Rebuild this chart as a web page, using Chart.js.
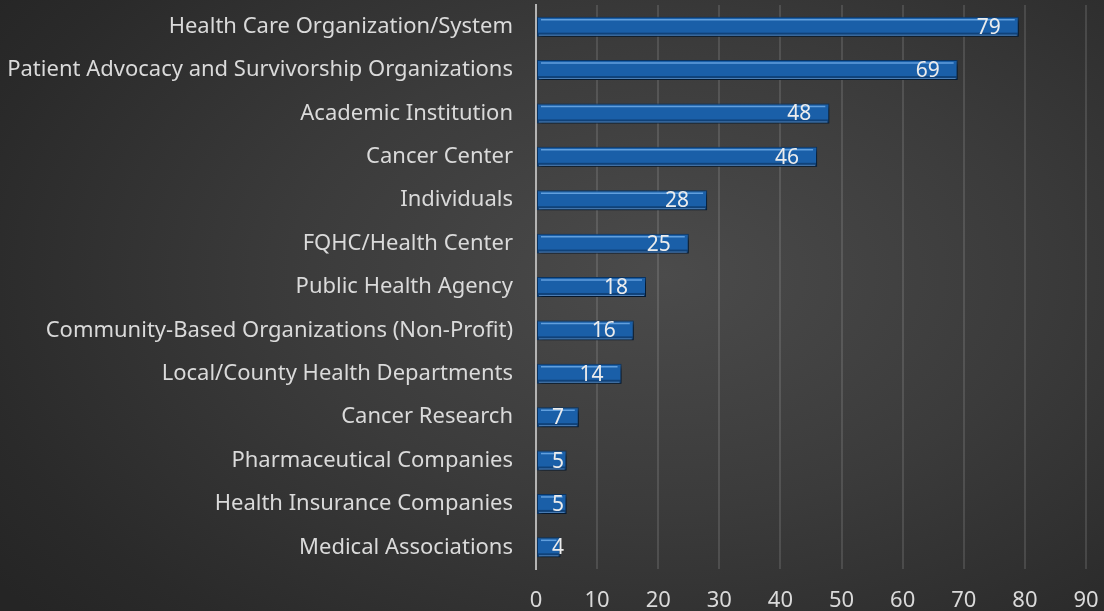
<!DOCTYPE html>
<html>
<head>
<meta charset="utf-8">
<script src="https://cdn.jsdelivr.net/npm/chart.js@4"></script>
<style>
    html, body {
        margin: 0;
        padding: 0;
        width: 1104px;
        height: 611px;
        overflow: hidden;
        background: radial-gradient(ellipse 75% 85% at 60% 45%, #4b4b4b 0%, #3b3b3b 45%, #2a2a2a 85%, #252525 100%);
    }
    canvas { display: block; }
</style>
</head>
<body>
<canvas id="orgChart" width="1104" height="611"></canvas>
<script>
const categories = [
    'Health Care Organization/System',
    'Patient Advocacy and Survivorship Organizations',
    'Academic Institution',
    'Cancer Center',
    'Individuals',
    'FQHC/Health Center',
    'Public Health Agency',
    'Community-Based Organizations (Non-Profit)',
    'Local/County Health Departments',
    'Cancer Research',
    'Pharmaceutical Companies',
    'Health Insurance Companies',
    'Medical Associations'
];
const counts = [79, 69, 48, 46, 28, 25, 18, 16, 14, 7, 5, 5, 4];
const xTicks = [0, 10, 20, 30, 40, 50, 60, 70, 80, 90];

const fontFamily = '"Noto Sans", "Open Sans", sans-serif';
const textColor = '#dadada';

// Shadow under the bars, and the light strip along the top of each bar
const barStyle = {
    id: 'barStyle',
    beforeDatasetDraw(chart) {
        const ctx = chart.ctx;
        ctx.save();
        ctx.shadowColor = 'rgba(0, 0, 0, 0.6)';
        ctx.shadowBlur = 4;
        ctx.shadowOffsetX = 2;
        ctx.shadowOffsetY = 3;
    },
    afterDatasetDraw(chart) {
        const ctx = chart.ctx;
        ctx.restore();
        ctx.save();
        chart.getDatasetMeta(0).data.forEach(bar => {
            const top = bar.y - bar.height / 2;
            const bottom = bar.y + bar.height / 2;
            const left = bar.base;
            const right = bar.x;
            // light line near top
            ctx.strokeStyle = 'rgba(110, 170, 230, 0.85)';
            ctx.lineWidth = 1.5;
            ctx.beginPath();
            ctx.moveTo(left + 4, top + 3);
            ctx.lineTo(right - 4, top + 3);
            ctx.stroke();
            // darker band at bottom
            ctx.fillStyle = 'rgba(5, 30, 65, 0.45)';
            ctx.fillRect(left + 1, bottom - 4, right - left - 2, 3);
            ctx.strokeStyle = 'rgba(120, 170, 225, 0.6)';
            ctx.lineWidth = 1;
            ctx.beginPath();
            ctx.moveTo(left + 2, bottom - 1.5);
            ctx.lineTo(right - 2, bottom - 1.5);
            ctx.stroke();
        });
        ctx.restore();
    }
};

// Value labels inside the end of each bar
const valueLabels = {
    id: 'valueLabels',
    afterDatasetsDraw(chart) {
        const ctx = chart.ctx;
        const values = chart.data.datasets[0].data;
        ctx.save();
        ctx.font = '21px ' + fontFamily;
        ctx.fillStyle = '#ececec';
        ctx.textAlign = 'center';
        ctx.textBaseline = 'middle';
        chart.getDatasetMeta(0).data.forEach((bar, i) => {
            const x = Math.max(bar.x - 30, bar.base + 21);
            ctx.fillText(values[i], x, bar.y + 1);
        });
        ctx.restore();
    }
};

new Chart(document.getElementById('orgChart'), {
    type: 'bar',
    data: {
        labels: categories,
        datasets: [{
            data: counts,
            backgroundColor: '#1a5fa8',
            borderColor: '#0b3563',
            borderWidth: 1,
            borderSkipped: false,
            barPercentage: 0.92,
            categoryPercentage: 0.5
        }]
    },
    options: {
        indexAxis: 'y',
        responsive: false,
        animation: false,
        devicePixelRatio: 1,
        layout: {
            padding: { top: 5, right: 18, bottom: 0, left: 0 }
        },
        plugins: {
            legend: { display: false },
            tooltip: { enabled: false }
        },
        scales: {
            x: {
                min: 0,
                max: 90,
                afterBuildTicks: scale => {
                    scale.ticks = xTicks.map(v => ({ value: v }));
                },
                afterFit: scale => {
                    scale.height = 42;
                    scale.paddingLeft = 0;
                    scale.paddingRight = 0;
                    scale.paddingTop = 0;
                    scale.paddingBottom = 0;
                },
                grid: {
                    color: 'rgba(255, 255, 255, 0.12)',
                    lineWidth: 2,
                    drawTicks: false
                },
                border: { display: false },
                ticks: {
                    color: textColor,
                    font: { family: fontFamily, size: 22 },
                    padding: 19
                }
            },
            y: {
                grid: { display: false, drawTicks: false },
                border: { color: '#b4b4b4', width: 2 },
                afterFit: scale => {
                    scale.width = 536;
                    scale.paddingTop = 0;
                    scale.paddingBottom = 0;
                },
                ticks: {
                    color: textColor,
                    font: { family: fontFamily, size: 22 },
                    padding: 23
                }
            }
        }
    },
    plugins: [barStyle, valueLabels]
});
</script>
</body>
</html>
